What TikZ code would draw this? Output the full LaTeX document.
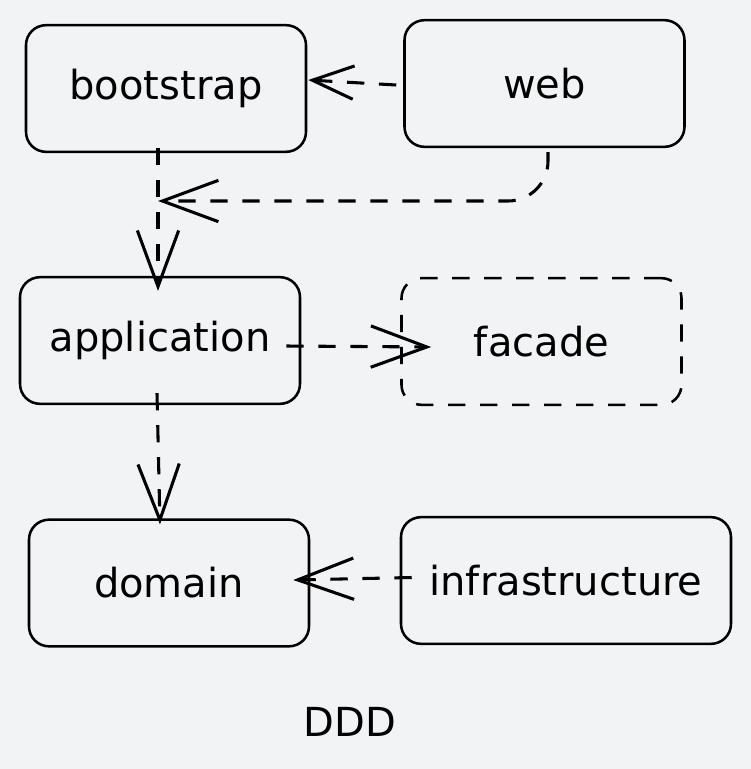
\documentclass[tikz,border=0pt]{standalone}
\usepackage{fontspec}
\setmainfont{DejaVu Sans}
\usetikzlibrary{arrows.meta}
\definecolor{canvas}{RGB}{241,243,245}

\begin{document}
\begin{tikzpicture}[x=0.75pt, y=-0.75pt,
  layer/.style={rectangle, rounded corners=15pt, draw=black, line width=1.9pt,
                minimum width=210pt, minimum height=95pt, align=center,
                font=\fontsize{30}{36}\selectfont},
  port/.style={layer, dash pattern=on 13pt off 11pt},
  dep/.style={-{Straight Barb[length=42pt, width=31pt]}, line width=2.3pt,
              dash pattern=on 13pt off 11pt},
  lbl/.style={font=\fontsize{30}{36}\selectfont}
]
  \fill[canvas] (0,0) rectangle (751,769);

  \node[layer] (bootstrap) at (166,88.5)  {bootstrap};
  \node[layer] (web)       at (544.5,83.5) {web};
  \node[layer] (application) at (160,340.5) {application};
  \node[port]  (facade)    at (541.5,341.5) {facade};
  \node[layer] (domain)    at (169,583)   {domain};
  \node[layer, minimum width=247.5pt] (infrastructure) at (566,580.5) {infrastructure};
  \node[lbl]   (title)     at (350,722)   {DDD};

  \coordinate (join) at (158,201);

  \draw[dep, -{Straight Barb[length=31pt, width=25pt]}]
    ([shift={(-7,1.5)}]web.west) -- ([shift={(1,-8.5)}]bootstrap.east);
  \draw[dep, rounded corners=30pt] ([shift={(3.5,4)}]web.south) |- (join);
  \draw[dep] ([shift={(-8,-5)}]bootstrap.south) -- ([shift={(-2,15)}]application.north);
  \draw[dep] ([shift={(-15,5.5)}]application.east) -- ([shift={(31,5.5)}]facade.west);
  \draw[dep] ([shift={(-3,-12)}]application.south) -- ([shift={(-9,6)}]domain.north);
  \draw[dep] ([shift={(12,-3)}]infrastructure.west) -- ([shift={(-17,-3)}]domain.east);
\end{tikzpicture}
\end{document}
